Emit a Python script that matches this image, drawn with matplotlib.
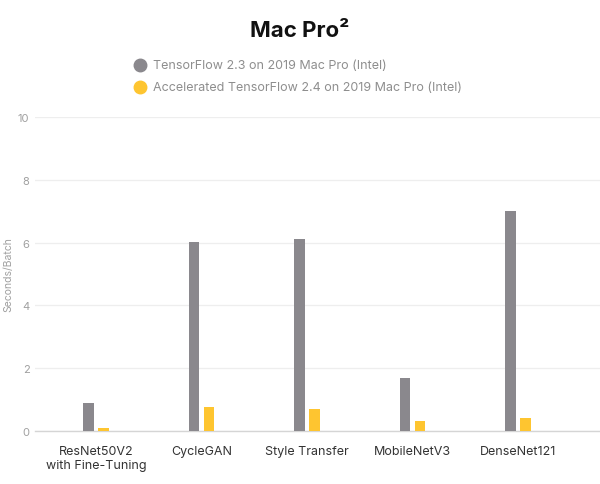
import matplotlib
matplotlib.use("Agg")
import matplotlib.pyplot as plt
from matplotlib.lines import Line2D
import numpy as np

plt.rcParams['font.family'] = ['Inter', 'DejaVu Sans']

categories = ["ResNet50V2\nwith Fine-Tuning", "CycleGAN", "Style Transfer", "MobileNetV3", "DenseNet121"]
tf23 = [0.9, 6.03, 6.1, 1.7, 7.0]
tf24 = [0.1, 0.77, 0.7, 0.33, 0.42]
series_names = ["TensorFlow 2.3 on 2019 Mac Pro (Intel)",
                "Accelerated TensorFlow 2.4 on 2019 Mac Pro (Intel)"]
yticks = [0, 2, 4, 6, 8, 10]

gray = "#8a888d"
yellow = "#fec530"

fig = plt.figure(figsize=(6, 4.85), dpi=100)
ax = fig.add_axes([35/600, 53/485, 565/600, (432-118)/485])

x = np.arange(len(categories))
w = 0.1
off = 0.072
ax.bar(x - off, tf23, width=w, color=gray, zorder=3)
ax.bar(x + off, tf24, width=w, color=yellow, zorder=3)

ax.set_xlim(-0.577, 4.778)
ax.set_ylim(0, 10)
ax.set_yticks(yticks)
ax.set_yticklabels([str(t) for t in yticks])
ax.set_xticks(x)
ax.set_xticklabels(categories, fontsize=9, color="#333333", linespacing=1.2)
ax.tick_params(axis='both', length=0)
ax.tick_params(axis='y', labelsize=8, labelcolor="#a0a0a0", pad=4)
ax.tick_params(axis='x', pad=10)
ax.grid(axis='y', color="#eeeeee", linewidth=0.9, zorder=0)
for s in ['top', 'right', 'left']:
    ax.spines[s].set_visible(False)
ax.spines['bottom'].set_color("#d5d5d5")
ax.spines['bottom'].set_linewidth(1.0)
ax.set_ylabel("Seconds/Batch", fontsize=7.5, color="#a0a0a0", labelpad=3)

fig.text(0.5, 1 - 31/485, "Mac Pro²", ha='center', va='center', fontsize=16, fontweight='bold', color="#111111")

for i, (name, col) in enumerate(zip(series_names, [gray, yellow])):
    yy = 1 - (66 + 22*i)/485
    fig.add_artist(Line2D([140/600], [yy], transform=fig.transFigure, marker='o',
                          markersize=9, color=col, linestyle='none'))
    fig.text(153/600, yy, name, ha='left', va='center', fontsize=9, color="#8e8e8e")

fig.savefig("out.png", dpi=100)
